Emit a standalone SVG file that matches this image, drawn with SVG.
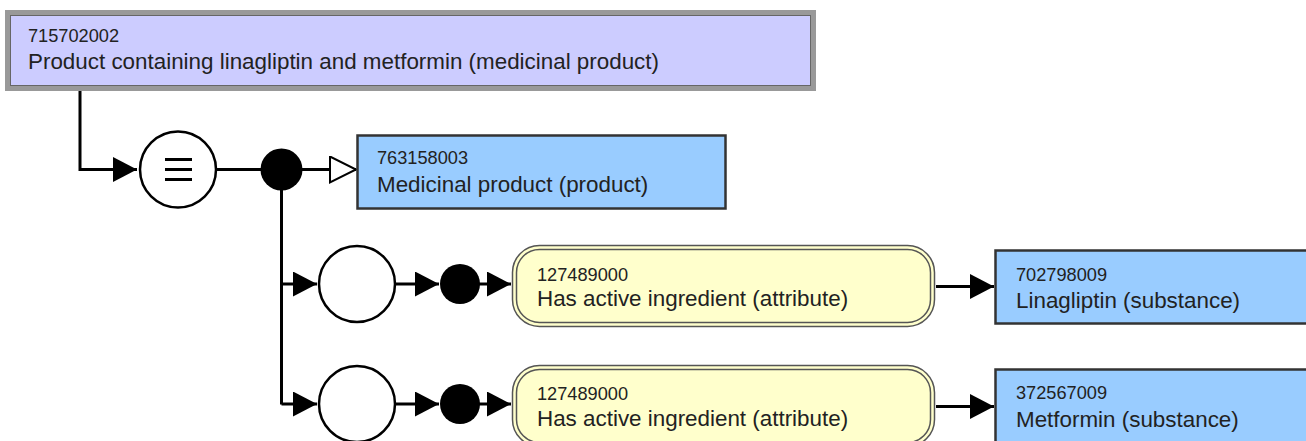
<svg xmlns="http://www.w3.org/2000/svg" width="1306" height="441" viewBox="0 0 1306 441">
<style>
  text { font-family: "Liberation Sans", Arial, sans-serif; fill: #222; }
  .id { font-size: 18.2px; }
  .lbl { font-size: 22.4px; }
  .conn { fill: none; stroke: #000; stroke-width: 3; }
  .arr { marker-end: url(#arrow); }
  .open { marker-end: url(#openArrow); }
  .circ { fill: #fff; stroke: #000; stroke-width: 2.5; }
  .dot { fill: #000; }
  .prim { fill: #99ccff; stroke: #333; stroke-width: 2.5; }
  .attr { fill: #ffffcc; stroke: #555; stroke-width: 1.5; }
  .attrIn { fill: none; stroke: #555; stroke-width: 1.5; }
</style>
<defs>
  <marker id="arrow" markerUnits="userSpaceOnUse" markerWidth="26" markerHeight="26" refX="24" refY="12.5" orient="auto" viewBox="0 0 26 26">
    <path d="M0,0 L24,12.5 L0,25 z" fill="#000"/>
  </marker>
  <marker id="openArrow" markerUnits="userSpaceOnUse" markerWidth="30" markerHeight="30" refX="27" refY="14" orient="auto" viewBox="0 0 30 30">
    <path d="M1,1 L27,14 L1,27 z" fill="#fff" stroke="#000" stroke-width="2"/>
  </marker>
</defs>

<g id="connectors">
  <path class="conn arr" d="M80,91 V169.5 H137"/>
  <path class="conn" d="M216,169.5 H262"/>
  <path class="conn open" d="M301,169.5 H356"/>
  <path class="conn" d="M281.5,189 V404.5"/>
  <path class="conn arr" d="M281.5,284 H317"/>
  <path class="conn arr" d="M281.5,404 H317"/>
  <path class="conn arr" d="M395,284 H439"/>
  <path class="conn arr" d="M395,404 H439"/>
  <path class="conn arr" d="M479,284 H511"/>
  <path class="conn arr" d="M479,404 H511"/>
  <path class="conn arr" d="M936,286.5 H994"/>
  <path class="conn arr" d="M936,406.5 H994"/>
</g>

<g id="node-715702002">
  <rect x="7.5" y="12.5" width="806" height="76" fill="#ccccff" stroke="#999" stroke-width="5"/>
  <rect x="10.5" y="15.5" width="800" height="70" fill="none" stroke="#666" stroke-width="1"/>
  <text class="id" x="28" y="42">715702002</text>
  <text class="lbl" x="28" y="69">Product containing linagliptin and metformin (medicinal product)</text>
</g>

<g id="node-equiv">
  <circle class="circ" cx="178" cy="169.5" r="38"/>
  <path d="M165,159.5 H192 M165,169.5 H192 M165,179.5 H192" stroke="#000" stroke-width="3"/>
</g>

<g id="node-conj">
  <circle class="dot" cx="281.5" cy="169.5" r="21"/>
</g>

<g id="node-763158003">
  <rect class="prim" x="357.5" y="135.5" width="368" height="73"/>
  <text class="id" x="377" y="164">763158003</text>
  <text class="lbl" x="377" y="192">Medicinal product (product)</text>
</g>

<g id="node-group1">
  <circle class="circ" cx="357" cy="284" r="38"/>
</g>
<g id="node-conj1">
  <circle class="dot" cx="460" cy="284" r="20"/>
</g>
<g id="node-attr1">
  <rect class="attr" x="512.5" y="245.5" width="422" height="81" rx="27" ry="27"/>
  <rect class="attrIn" x="516.5" y="249.5" width="414" height="73" rx="23" ry="23"/>
  <text class="id" x="537" y="281">127489000</text>
  <text class="lbl" x="537" y="306">Has active ingredient (attribute)</text>
</g>
<g id="node-702798009">
  <rect class="prim" x="995.5" y="250.5" width="320" height="73"/>
  <text class="id" x="1016" y="281">702798009</text>
  <text class="lbl" x="1016" y="308">Linagliptin (substance)</text>
</g>

<g id="node-group2">
  <circle class="circ" cx="357" cy="404" r="38"/>
</g>
<g id="node-conj2">
  <circle class="dot" cx="460" cy="404" r="20"/>
</g>
<g id="node-attr2">
  <rect class="attr" x="512.5" y="365.5" width="422" height="81" rx="27" ry="27"/>
  <rect class="attrIn" x="516.5" y="369.5" width="414" height="73" rx="23" ry="23"/>
  <text class="id" x="537" y="400">127489000</text>
  <text class="lbl" x="537" y="426">Has active ingredient (attribute)</text>
</g>
<g id="node-372567009">
  <rect class="prim" x="995.5" y="369.5" width="320" height="73"/>
  <text class="id" x="1016" y="399">372567009</text>
  <text class="lbl" x="1016" y="427">Metformin (substance)</text>
</g>
</svg>
